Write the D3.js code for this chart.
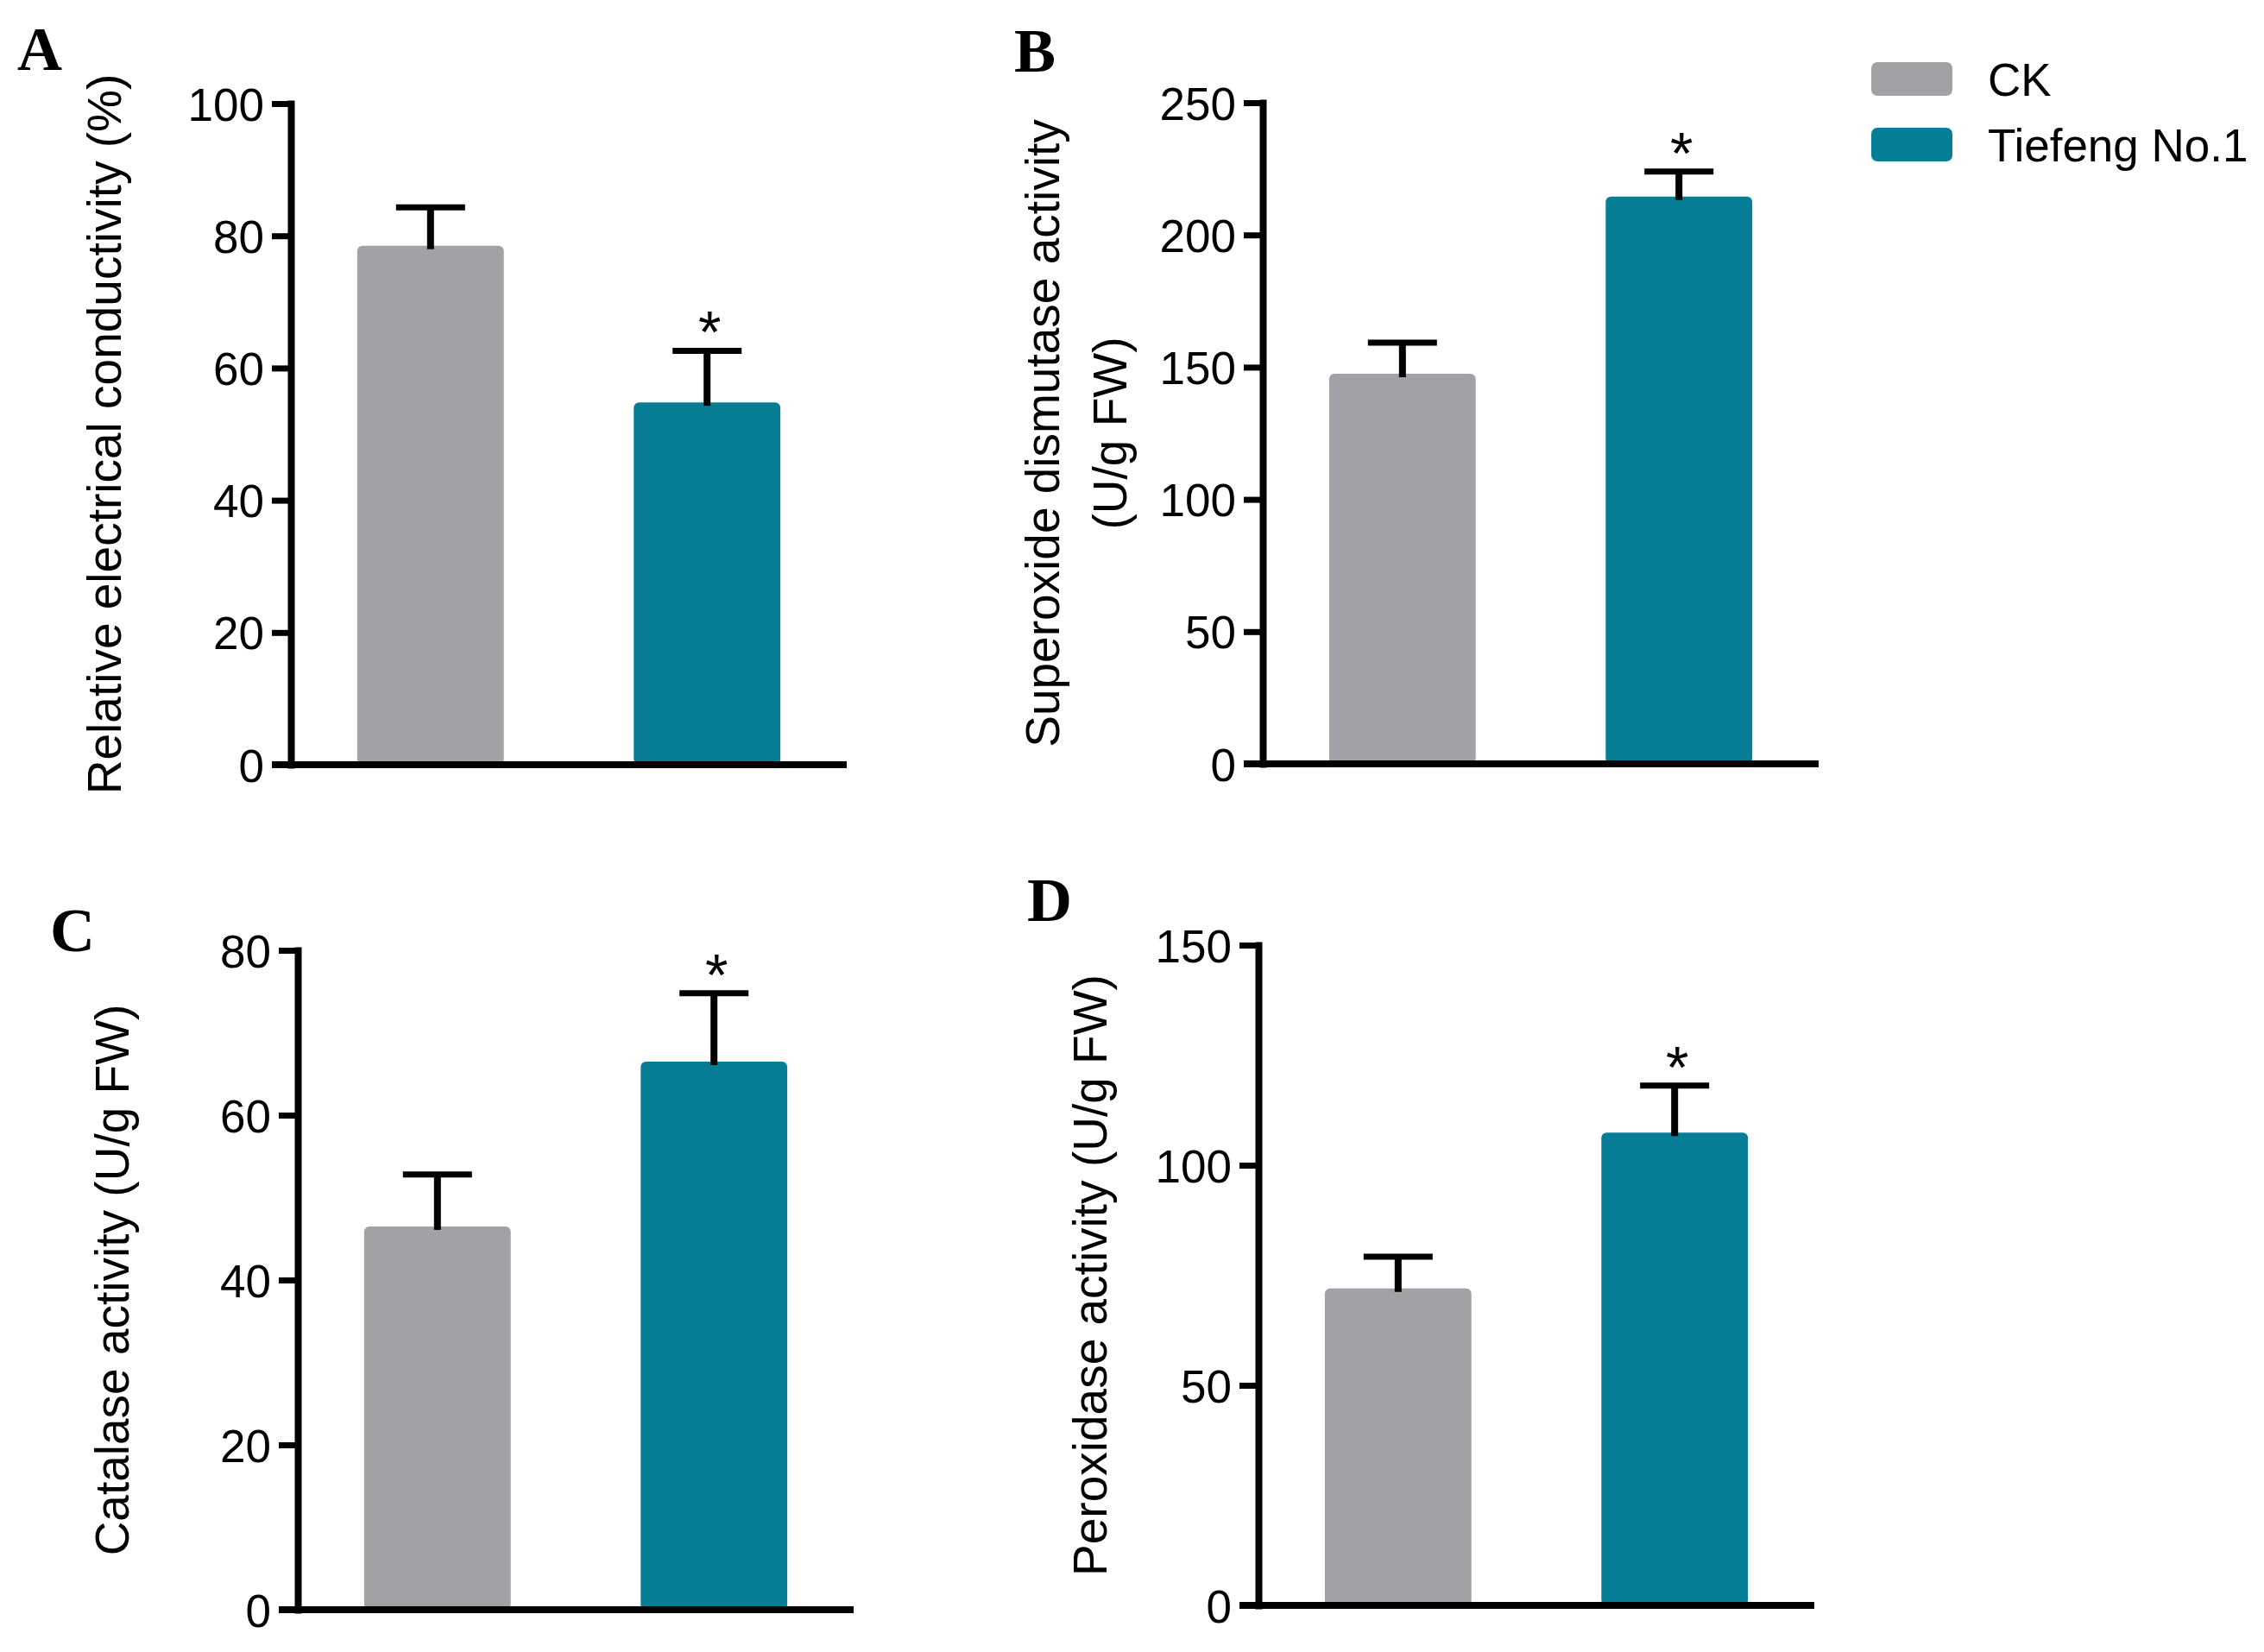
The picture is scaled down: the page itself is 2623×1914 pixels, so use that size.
<!DOCTYPE html>
<html lang="en">
<head>
  <meta charset="utf-8">
  <title>Antioxidant enzymes - bar panels</title>
  <script src="https://cdn.jsdelivr.net/npm/d3@7"></script>
  <style>
    body { margin: 0; background: #fff; }
    .tick text { font-family: "Liberation Sans", Arial, sans-serif; font-size: 53px; fill: #000; }
    .ylab { font-family: "Liberation Sans", Arial, sans-serif; font-size: 55px; fill: #000; }
    .letter { font-family: "Liberation Serif", "Times New Roman", serif; font-weight: bold; font-size: 72px; fill: #000; }
    .legend text { font-family: "Liberation Sans", Arial, sans-serif; font-size: 53px; fill: #000; }
    .star { font-family: "Liberation Sans", Arial, sans-serif; font-size: 68px; fill: #000; text-anchor: middle; }
  </style>
</head>
<body>
<script>
  // groups
  var groups = ["CK", "Tiefeng No.1"];
  var colors = ["#a2a1a6", "#077e96"];
  var significant = [false, true];

  // A: relative electrical conductivity (%)
  var eclMean = [78.5, 54.8];
  var eclErr = [5.8, 7.8];
  var eclTicks = [0, 20, 40, 60, 80, 100];

  // B: SOD activity
  var sodMean = [147.5, 214.5];
  var sodErr = [11.8, 9.5];
  var sodTicks = [0, 50, 100, 150, 200, 250];

  // C: CAT activity
  var catMean = [46.5, 66.5];
  var catErr = [6.3, 8.3];
  var catTicks = [0, 20, 40, 60, 80];

  // D: POD activity
  var podMean = [72, 107.4];
  var podErr = [7.2, 10.7];
  var podTicks = [0, 50, 100, 150];

  var svg = d3.select("body").append("svg")
    .attr("width", 2623)
    .attr("height", 1914);

  var panels = [
    { letter: "A", mean: eclMean, err: eclErr, ticks: eclTicks,
      label: ["Relative electrical conductivity (%)"],
      x0: 337, top: 120, bottom: 886, lx: [140], letterPos: [20, 81] },
    { letter: "B", mean: sodMean, err: sodErr, ticks: sodTicks,
      label: ["Superoxide dismutase activity", "(U/g FW)"],
      x0: 1463, top: 119, bottom: 885, lx: [1227, 1305], letterPos: [1175, 83] },
    { letter: "C", mean: catMean, err: catErr, ticks: catTicks,
      label: ["Catalase activity (U/g FW)"],
      x0: 345, top: 1101, bottom: 1865, lx: [149], letterPos: [58, 1102] },
    { letter: "D", mean: podMean, err: podErr, ticks: podTicks,
      label: ["Peroxidase activity (U/g FW)"],
      x0: 1458, top: 1095, bottom: 1860, lx: [1282], letterPos: [1190, 1067] }
  ];

  var plotW = 644;

  panels.forEach(function (p) {
    var g = svg.append("g").attr("transform", "translate(" + p.x0 + ",0)");

    var y = d3.scaleLinear()
      .domain([0, d3.max(p.ticks)])
      .range([p.bottom, p.top]);

    var x = d3.scaleBand()
      .domain(groups)
      .range([0, plotW])
      .paddingInner(0.47)
      .paddingOuter(0.24);

    // bars
    g.selectAll(".bar")
      .data(groups)
      .enter().append("rect")
      .attr("class", "bar")
      .attr("x", function (d) { return x(d); })
      .attr("y", function (d, i) { return y(p.mean[i]); })
      .attr("width", x.bandwidth())
      .attr("height", function (d, i) { return y(0) - y(p.mean[i]); })
      .attr("rx", 6)
      .attr("fill", function (d, i) { return colors[i]; });

    // error bars (upper only)
    var eb = g.selectAll(".err")
      .data(groups)
      .enter().append("g")
      .attr("class", "err");
    eb.append("line")
      .attr("x1", function (d) { return x(d) + x.bandwidth() / 2; })
      .attr("x2", function (d) { return x(d) + x.bandwidth() / 2; })
      .attr("y1", function (d, i) { return y(p.mean[i]) + 4; })
      .attr("y2", function (d, i) { return y(p.mean[i] + p.err[i]); })
      .attr("stroke", "#000")
      .attr("stroke-width", 8);
    eb.append("line")
      .attr("x1", function (d) { return x(d) + x.bandwidth() / 2 - 40; })
      .attr("x2", function (d) { return x(d) + x.bandwidth() / 2 + 40; })
      .attr("y1", function (d, i) { return y(p.mean[i] + p.err[i]); })
      .attr("y2", function (d, i) { return y(p.mean[i] + p.err[i]); })
      .attr("stroke", "#000")
      .attr("stroke-width", 7);

    // significance stars
    g.selectAll(".star")
      .data(groups.filter(function (d, i) { return significant[i]; }))
      .enter().append("text")
      .attr("class", "star")
      .attr("x", function (d) { return x(d) + x.bandwidth() / 2 + 3; })
      .attr("y", function (d) {
        var i = groups.indexOf(d);
        return y(p.mean[i] + p.err[i]) + 2;
      })
      .text("*");

    // y axis
    var yAxis = g.append("g")
      .call(d3.axisLeft(y)
        .tickValues(p.ticks)
        .tickSize(22)
        .tickSizeOuter(0)
        .tickPadding(9));
    yAxis.select(".domain")
      .attr("stroke-width", 8)
      .attr("stroke-linecap", "square");
    yAxis.selectAll(".tick line").attr("stroke-width", 7);
    yAxis.selectAll(".tick text").attr("dy", "0.36em");

    // x axis baseline
    g.append("line")
      .attr("x1", -22)
      .attr("x2", plotW)
      .attr("y1", y(0))
      .attr("y2", y(0))
      .attr("stroke", "#000")
      .attr("stroke-width", 8);

    // y axis title
    var midY = (p.top + p.bottom) / 2;
    p.label.forEach(function (t, k) {
      svg.append("text")
        .attr("class", "ylab")
        .attr("text-anchor", "middle")
        .attr("transform", "translate(" + p.lx[k] + "," + midY + ") rotate(-90)")
        .text(t);
    });

    // panel letter
    svg.append("text")
      .attr("class", "letter")
      .attr("x", p.letterPos[0])
      .attr("y", p.letterPos[1])
      .text(p.letter);
  });

  // legend
  var legend = svg.append("g").attr("class", "legend")
    .attr("transform", "translate(2168,72)");
  var li = legend.selectAll("g")
    .data(groups)
    .enter().append("g")
    .attr("transform", function (d, i) { return "translate(0," + (i * 76) + ")"; });
  li.append("rect")
    .attr("width", 94)
    .attr("height", 39)
    .attr("rx", 7)
    .attr("fill", function (d, i) { return colors[i]; });
  li.append("text")
    .attr("x", 135)
    .attr("y", 39)
    .text(function (d) { return d; });
</script>
</body>
</html>
